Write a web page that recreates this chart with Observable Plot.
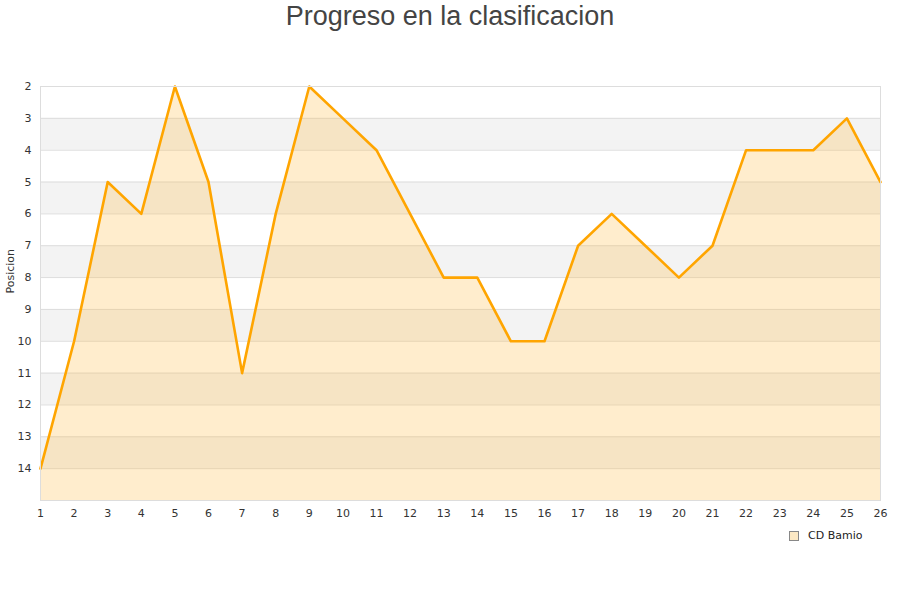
<!DOCTYPE html>
<html>
<head>
<meta charset="utf-8">
<script src="https://cdn.jsdelivr.net/npm/d3@7"></script>
<script src="https://cdn.jsdelivr.net/npm/@observablehq/plot@0.6"></script>
<style>
  html, body { margin: 0; padding: 0; background: #fff; }
  #wrap { position: relative; width: 900px; height: 600px; }
  #title { height: 40px; text-align: center; font-family: "Liberation Sans", Arial, sans-serif; font-size: 27px; color: #444; line-height: 32px; }
  #legend { position: absolute; left: 789px; top: 529px; font-family: "DejaVu Sans", sans-serif; font-size: 11px; color: #222; display: flex; align-items: center; }
  #legend .sw { width: 8px; height: 8px; background: #fde9c4; border: 1px solid #888; margin-right: 9px; }
</style>
</head>
<body>
<div id="wrap">
  <div id="title">Progreso en la clasificacion</div>
  <div id="chart"></div>
  <div id="legend"><span class="sw"></span><span>CD Bamio</span></div>
</div>
<script>
const rounds = [1,2,3,4,5,6,7,8,9,10,11,12,13,14,15,16,17,18,19,20,21,22,23,24,25,26];
const positions = [14,10,5,6,2,5,11,6,2,3,4,6,8,8,10,10,7,6,7,8,7,4,4,4,3,5];
const yTicks = [2,3,4,5,6,7,8,9,10,11,12,13,14];
const yDomain = [2,15];
const yLabel = "Posicion";
const seriesName = "CD Bamio";

const data = rounds.map((r, i) => ({round: r, pos: positions[i]}));
const bands = yTicks.filter((t, i) => i % 2 === 1).map(t => ({y1: t, y2: t + 1}));
const gridLines = yTicks.concat([15]);

const chart = Plot.plot({
  width: 900,
  height: 520,
  marginTop: 46,
  marginBottom: 60,
  marginLeft: 40,
  marginRight: 20,
  style: { fontFamily: "DejaVu Sans, sans-serif", fontSize: "11px", color: "#333", background: "transparent" },
  x: { domain: [1, 26], ticks: rounds, tickSize: 0, tickPadding: 9, label: null, tickFormat: d => String(d) },
  y: { domain: yDomain, reverse: true, ticks: yTicks, tickSize: 0, tickPadding: 9, label: null, tickFormat: d => String(d) },
  marks: [
    Plot.rect(bands, { y1: "y1", y2: "y2", fill: "#f3f3f3" }),
    Plot.ruleY(gridLines, { stroke: "#dddddd", strokeWidth: 1 }),
    Plot.areaY(data, { x: "round", y1: 15, y2: "pos", fill: "#ffc04d", fillOpacity: 0.28 }),
    Plot.line(data, { x: "round", y: "pos", stroke: "#ffa500", strokeWidth: 2.6, strokeLinejoin: "round" }),
    Plot.frame({ stroke: "#dddddd" }),
    Plot.text([yLabel], { text: d => d, frameAnchor: "left", dx: -30, rotate: -90, fill: "#333", fontSize: 11 })
  ]
});
document.getElementById("chart").appendChild(chart);
</script>
</body>
</html>
